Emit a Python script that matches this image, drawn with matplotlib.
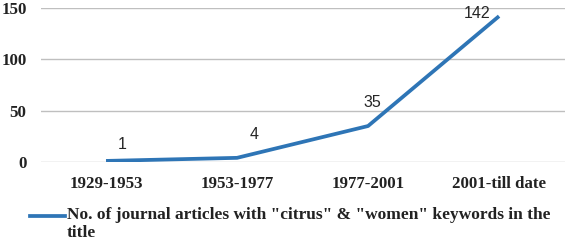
import matplotlib.pyplot as plt
from matplotlib.lines import Line2D

periods = ['1929-1953', '1953-1977', '1977-2001', '2001-till date']
articles = [1, 4, 35, 142]
series_name = 'No. of journal articles with "citrus" & "women" keywords in the\ntitle'

# label offsets in points (x, y), as placed in the original
label_offsets = [(12, 12), (12, 17), (3, 17), (-16, 2)]

serif = ['Liberation Serif', 'DejaVu Serif']
blue = '#2E75B6'

fig = plt.figure(figsize=(5.69, 2.41), dpi=100)
ax = fig.add_axes([0.0712, 0.328, 0.921, 0.639])

x = range(len(periods))
ax.plot(x, articles, color=blue, lw=2.7, solid_capstyle='butt')

for i, v in enumerate(articles):
    ax.annotate(str(v), (i, v), xytext=label_offsets[i], textcoords='offset points',
                ha='center', va='center', fontsize=11.5, family='Liberation Sans', color='#262626')

ax.set_xlim(-0.5, len(periods) - 0.5)
ax.set_ylim(0, 150)
ax.set_yticks([0, 50, 100, 150])
ax.set_xticks(list(x))
ax.set_xticklabels(periods)
ax.yaxis.grid(True, color='#BFBFBF', lw=1)
ax.set_axisbelow(True)
for s in ax.spines.values():
    s.set_visible(False)
ax.tick_params(length=0, pad=10)
ax.tick_params(axis='y', pad=10)
for lab in ax.get_xticklabels() + ax.get_yticklabels():
    lab.set_fontfamily(serif)
    lab.set_fontweight('bold')
    lab.set_fontsize(12.2)
    lab.set_color('#222222')

# legend below
fig.add_artist(Line2D([30 / 569, 65 / 569], [1 - 216 / 241] * 2, color=blue, lw=2.7,
                      transform=fig.transFigure))
fig.text(67 / 569, 1 - 207 / 241, series_name, ha='left', va='top', family=serif,
         fontweight='bold', fontsize=12.5, color='#222222', linespacing=1.2,
         transform=fig.transFigure)

fig.savefig('out.png', dpi=100)
